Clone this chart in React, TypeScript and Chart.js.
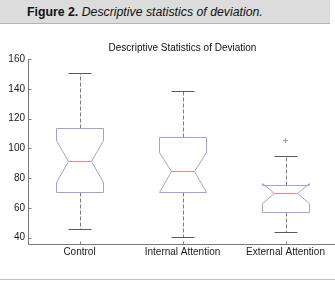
import React, { useEffect, useRef } from 'react';
import { Chart, registerables } from 'chart.js';

Chart.register(...registerables);

const FONT = "'Liberation Sans', Arial, Helvetica, sans-serif";

const categories = ['Control', 'Internal Attention', 'External Attention'];
const xPositions = [1, 2, 3];
const whiskerLow = [45.7, 40.5, 43.6];
const q1 = [70.7, 70.9, 57.0];
const notchLow = [77.5, 70.9, 63.5];
const median = [91.4, 84.9, 70.2];
const notchHigh = [105.7, 97.4, 76.8];
const q3 = [113.6, 107.5, 75.5];
const whiskerHigh = [150.3, 138.5, 94.9];
const outlierPoints = [{ x: 3, y: 105.2 }];
const yTicks = [40, 60, 80, 100, 120, 140, 160];

const crisp = (v: number) => Math.round(v) + 0.5;

const boxPlugin = {
  id: 'notchedBoxes',
  afterDatasetsDraw(chart: any) {
    const { ctx, scales, chartArea } = chart;
    const xs = scales.x;
    const ys = scales.y;
    const boxHalf = 0.225;
    const capHalf = 0.115;
    const X = (v: number) => crisp(xs.getPixelForValue(v));
    const Y = (v: number) => crisp(ys.getPixelForValue(v));
    const line = (x1: number, y1: number, x2: number, y2: number) => {
      ctx.beginPath();
      ctx.moveTo(x1, y1);
      ctx.lineTo(x2, y2);
      ctx.stroke();
    };
    ctx.save();
    ctx.lineWidth = 1;
    xPositions.forEach((pos, i) => {
      const cx = X(pos);
      const bl = X(pos - boxHalf);
      const br = X(pos + boxHalf);
      const il = X(pos - boxHalf / 2);
      const ir = X(pos + boxHalf / 2);
      const cl = X(pos - capHalf);
      const cr = X(pos + capHalf);
      // whiskers
      ctx.strokeStyle = '#7a7a7a';
      ctx.setLineDash([4, 2]);
      line(cx, Y(q3[i]), cx, Y(whiskerHigh[i]));
      line(cx, Y(q1[i]), cx, Y(whiskerLow[i]));
      ctx.setLineDash([]);
      // caps
      ctx.strokeStyle = '#5a5a5a';
      line(cl, Y(whiskerHigh[i]), cr, Y(whiskerHigh[i]));
      line(cl, Y(whiskerLow[i]), cr, Y(whiskerLow[i]));
      // notched box
      ctx.strokeStyle = '#a2a2d6';
      ctx.beginPath();
      ctx.moveTo(bl, Y(q1[i]));
      ctx.lineTo(bl, Y(notchLow[i]));
      ctx.lineTo(il, Y(median[i]));
      ctx.lineTo(bl, Y(notchHigh[i]));
      ctx.lineTo(bl, Y(q3[i]));
      ctx.lineTo(br, Y(q3[i]));
      ctx.lineTo(br, Y(notchHigh[i]));
      ctx.lineTo(ir, Y(median[i]));
      ctx.lineTo(br, Y(notchLow[i]));
      ctx.lineTo(br, Y(q1[i]));
      ctx.closePath();
      ctx.stroke();
      // median
      ctx.strokeStyle = '#e08c8c';
      line(il, Y(median[i]), ir, Y(median[i]));
    });
    // inward tick marks
    ctx.strokeStyle = '#808080';
    const left = crisp(chartArea.left);
    const bottom = crisp(chartArea.bottom);
    ys.ticks.forEach((t: any) => line(left, Y(t.value), left + 3, Y(t.value)));
    xs.ticks.forEach((t: any) => line(X(t.value), bottom, X(t.value), bottom - 3));
    ctx.restore();
  },
};

function BoxChart() {
  const ref = useRef<HTMLCanvasElement | null>(null);
  useEffect(() => {
    if (!ref.current) return;
    const chart = new Chart(ref.current, {
      type: 'scatter',
      data: {
        datasets: [
          {
            data: outlierPoints,
            pointStyle: 'cross',
            pointRadius: 2.5,
            borderColor: '#e08080',
            backgroundColor: '#e08080',
            borderWidth: 1,
          },
        ],
      },
      options: {
        animation: false,
        responsive: false,
        maintainAspectRatio: false,
        events: [],
        layout: { padding: { top: 16, left: 0, right: 0, bottom: 0 } },
        plugins: {
          legend: { display: false },
          tooltip: { enabled: false },
          title: {
            display: true,
            text: 'Descriptive Statistics of Deviation',
            fullSize: false,
            color: '#111111',
            font: { family: FONT, size: 10, weight: 'normal' },
            padding: { top: 0, bottom: 5 },
          },
        },
        scales: {
          x: {
            type: 'linear',
            min: 0.5,
            max: 3.5,
            afterBuildTicks: (s: any) => {
              s.ticks = xPositions.map((v) => ({ value: v }));
            },
            afterFit: (s: any) => {
              s.height = 39;
            },
            ticks: {
              autoSkip: false,
              maxRotation: 0,
              padding: 2,
              color: '#1a1a1a',
              font: { family: FONT, size: 10 },
              callback: (v: any) => {
                const idx = xPositions.indexOf(Number(v));
                return idx >= 0 ? categories[idx] : '';
              },
            },
            grid: { drawOnChartArea: false, drawTicks: false },
            border: { color: '#7a7a7a', width: 1 },
          },
          y: {
            type: 'linear',
            min: 35.8,
            max: 160,
            afterBuildTicks: (s: any) => {
              s.ticks = yTicks.map((v) => ({ value: v }));
            },
            afterFit: (s: any) => {
              s.width = 28;
            },
            ticks: {
              padding: 3,
              color: '#1a1a1a',
              font: { family: FONT, size: 10 },
            },
            grid: { drawOnChartArea: false, drawTicks: false },
            border: { color: '#7a7a7a', width: 1 },
          },
        },
      },
      plugins: [boxPlugin],
    } as any);
    return () => chart.destroy();
  }, []);
  return (
    <canvas
      ref={ref}
      width={342}
      height={257}
      style={{ position: 'absolute', left: 0, top: 26, width: 342, height: 257, display: 'block' }}
    />
  );
}

export default function App() {
  return (
    <div
      style={{
        position: 'fixed',
        left: 0,
        top: 0,
        width: 335,
        height: 283,
        overflow: 'hidden',
        background: '#ffffff',
        fontFamily: FONT,
      }}
    >
      <div
        style={{
          position: 'absolute',
          left: 0,
          top: 0,
          width: 330,
          height: 24,
          background: '#dcdcdc',
          borderBottom: '1px solid #b4b4b4',
          boxSizing: 'border-box',
          fontSize: 12.3,
          lineHeight: '24px',
          paddingLeft: 27,
          color: '#111111',
          whiteSpace: 'nowrap',
        }}
      >
        <b>Figure 2.</b> <i>Descriptive statistics of deviation.</i>
      </div>
      <BoxChart />
      <div
        style={{
          position: 'absolute',
          left: 0,
          top: 279,
          width: 335,
          height: 1,
          background: '#c0c0c0',
        }}
      />
    </div>
  );
}
